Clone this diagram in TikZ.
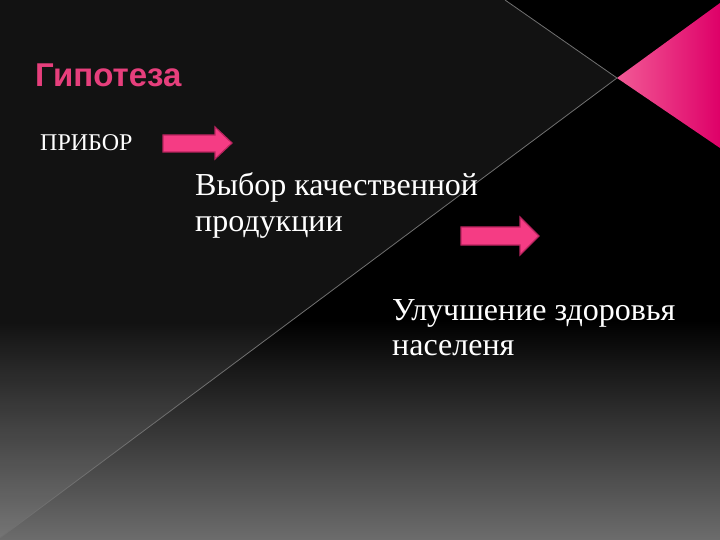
\documentclass[tikz,border=0pt]{standalone}
\usepackage{fontspec}
\setmainfont{Liberation Serif}
\newfontfamily\titlefont{Liberation Sans}
\definecolor{pinkA}{HTML}{F25A96}
\definecolor{pinkB}{HTML}{DE0068}
\definecolor{arrowfill}{HTML}{F53C84}
\definecolor{arrowedge}{HTML}{B8245E}
\definecolor{titlepink}{HTML}{E63F7C}
\definecolor{bottomgray}{HTML}{6C6C6C}
\definecolor{linegray}{HTML}{707070}
\tikzset{
  bodytext/.style={anchor=base west, inner sep=0pt, text=white, font=\fontsize{32}{35}\selectfont},
  smalltext/.style={anchor=base west, inner sep=0pt, text=white, font=\fontsize{24}{27}\selectfont},
  pinkarrow/.style={fill=arrowfill, draw=arrowedge, line width=1.2pt, line join=miter},
  thinline/.style={draw=linegray, line width=0.8pt}
}
\begin{document}
\begin{tikzpicture}[x=1pt,y=-1pt]
\useasboundingbox (0,0) rectangle (720,540);
% background
\fill[black] (0,0) rectangle (720,540);
\shade[top color=black, bottom color=bottomgray] (0,320) rectangle (720,540);
\fill[white, opacity=0.07] (0,0) -- (505,0) -- (617,78) -- (0,538) -- cycle;
% pink triangle
\shade[left color=pinkA, right color=pinkB] (617,78) -- (720,3) -- (720,148) -- cycle;
% thin lines
\coordinate (l1) at (505,0);
\coordinate (apex) at (617,78);
\coordinate (l2) at (0,538);
\draw[thinline] (l1) -- (apex) -- (l2);
% title
\node[anchor=base west, inner sep=0pt, text=titlepink, font=\titlefont\bfseries\fontsize{33}{36}\selectfont] (title) at (35,87) {Гипотеза};
% texts
\node[smalltext] (pribor) at (40,151) {ПРИБОР};
\node[bodytext] (vybor1) at (195,196) {Выбор качественной};
\node[bodytext] (vybor2) at (195,231) {продукции};
\node[bodytext] (uluch1) at (392,320) {Улучшение здоровья};
\node[bodytext] (uluch2) at (392,355) {населеня};
% arrows
\draw[pinkarrow] (163,135) -- (215,135) -- (215,127) -- (232,143) -- (215,159) -- (215,152) -- (163,152) -- cycle;
\draw[pinkarrow] (461,227) -- (520,227) -- (520,217) -- (539,236) -- (520,255) -- (520,245) -- (461,245) -- cycle;
\end{tikzpicture}
\end{document}
